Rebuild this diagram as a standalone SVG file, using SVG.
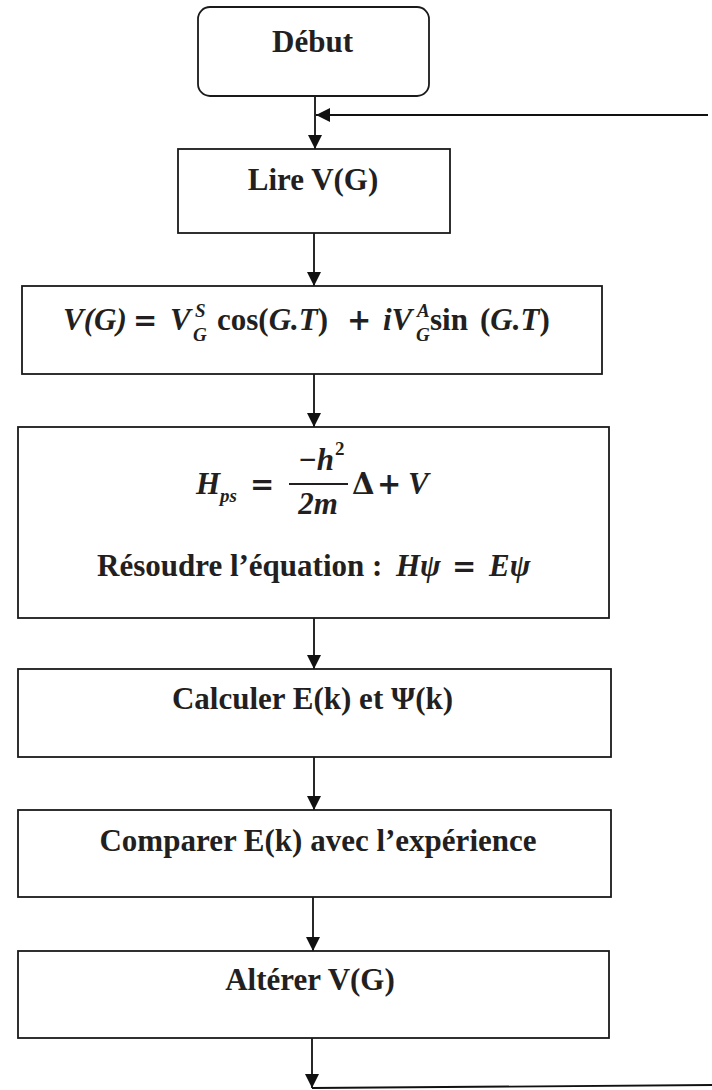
<svg xmlns="http://www.w3.org/2000/svg" width="712" height="1090" viewBox="0 0 712 1090">
<defs>
<marker id="ah" markerWidth="14" markerHeight="14" viewBox="0 0 14 14" refX="14" refY="7" orient="auto" markerUnits="userSpaceOnUse">
<path d="M0,0 L14,7 L0,14 Z" fill="#111"/>
</marker>
<style>
.box{fill:#fff;stroke:#1a1a1a;stroke-width:1.8}
.t{font-family:"Liberation Serif",serif;font-weight:bold;font-size:31px;fill:#231f20}
.m{font-family:"Liberation Serif",serif;font-weight:bold;font-style:italic;font-size:31px;fill:#231f20}
.mu{font-family:"Liberation Serif",serif;font-weight:bold;font-size:31px;fill:#231f20}
.op{font-family:"DejaVu Serif",serif;font-weight:bold;font-size:29px;fill:#231f20}
.s{font-size:19px}
.c{fill:none;stroke:#111;stroke-width:1.8}
</style>
</defs>
<rect width="712" height="1090" fill="#fff"/>
<g id="connectors">
<line class="c" x1="315" y1="96" x2="315" y2="149" marker-end="url(#ah)"/>
<line class="c" x1="708" y1="115" x2="316" y2="115" marker-end="url(#ah)"/>
<line class="c" x1="314" y1="233" x2="314" y2="286" marker-end="url(#ah)"/>
<line class="c" x1="314" y1="374" x2="314" y2="427" marker-end="url(#ah)"/>
<line class="c" x1="314" y1="618" x2="314" y2="669" marker-end="url(#ah)"/>
<line class="c" x1="314" y1="757" x2="314" y2="810" marker-end="url(#ah)"/>
<line class="c" x1="313" y1="897" x2="313" y2="951" marker-end="url(#ah)"/>
<line class="c" x1="312" y1="1038" x2="312" y2="1088" marker-end="url(#ah)"/>
<line class="c" x1="312" y1="1088" x2="712" y2="1085"/>
</g>
<g id="debut">
<rect class="box" x="198" y="7" width="231" height="89" rx="12"/>
<text class="t" x="312.5" y="52" text-anchor="middle">Début</text>
</g>
<g id="lire">
<rect class="box" x="178" y="149" width="272" height="84"/>
<text class="t" x="313" y="190" text-anchor="middle">Lire V(G)</text>
</g>
<g id="potentiel">
<rect class="box" x="22" y="286" width="580" height="88"/>
<text class="m" x="63" y="330">V<tspan class="mu">(</tspan>G<tspan class="mu">)</tspan></text>
<text class="op" x="133" y="330">=</text>
<text class="m" x="170" y="330">V</text>
<text class="m s" x="195" y="317">S</text>
<text class="m s" x="193" y="341">G</text>
<text class="mu" x="217" y="330">cos(<tspan class="m">G.T</tspan>)</text>
<text class="op" x="347" y="330">+</text>
<text class="m" x="383" y="330">iV</text>
<text class="m s" x="417" y="317">A</text>
<text class="m s" x="416" y="341">G</text>
<text class="mu" x="430" y="330">sin</text>
<text class="mu" x="480" y="330">(<tspan class="m">G.T</tspan>)</text>
</g>
<g id="hamiltonien">
<rect class="box" x="18" y="427" width="591" height="191"/>
<text class="m" x="196" y="494">H</text>
<text class="m s" x="220" y="502">ps</text>
<text class="op" x="250" y="494">=</text>
<text class="m" x="316" y="470" text-anchor="middle">−h</text>
<text class="mu s" x="335" y="455">2</text>
<line x1="289" y1="484" x2="348" y2="484" stroke="#231f20" stroke-width="2.2"/>
<text class="m" x="318" y="514" text-anchor="middle"><tspan class="mu">2</tspan>m</text>
<text class="op" x="352" y="494">Δ</text>
<text class="op" x="377" y="494">+</text>
<text class="m" x="408" y="494">V</text>
<text class="t" x="97" y="576">Résoudre l’équation :</text>
<text class="m" x="396" y="576">Hψ</text>
<text class="op" x="452" y="576">=</text>
<text class="m" x="489" y="576">Eψ</text>
</g>
<g id="calculer">
<rect class="box" x="18" y="669" width="593" height="88"/>
<text class="t" x="312.5" y="709" text-anchor="middle">Calculer E(k) et Ψ(k)</text>
</g>
<g id="comparer">
<rect class="box" x="18" y="810" width="593" height="87"/>
<text class="t" x="318" y="851" text-anchor="middle">Comparer E(k) avec l’expérience</text>
</g>
<g id="alterer">
<rect class="box" x="18" y="951" width="591" height="87"/>
<text class="t" x="310" y="990" text-anchor="middle">Altérer V(G)</text>
</g>
</svg>
